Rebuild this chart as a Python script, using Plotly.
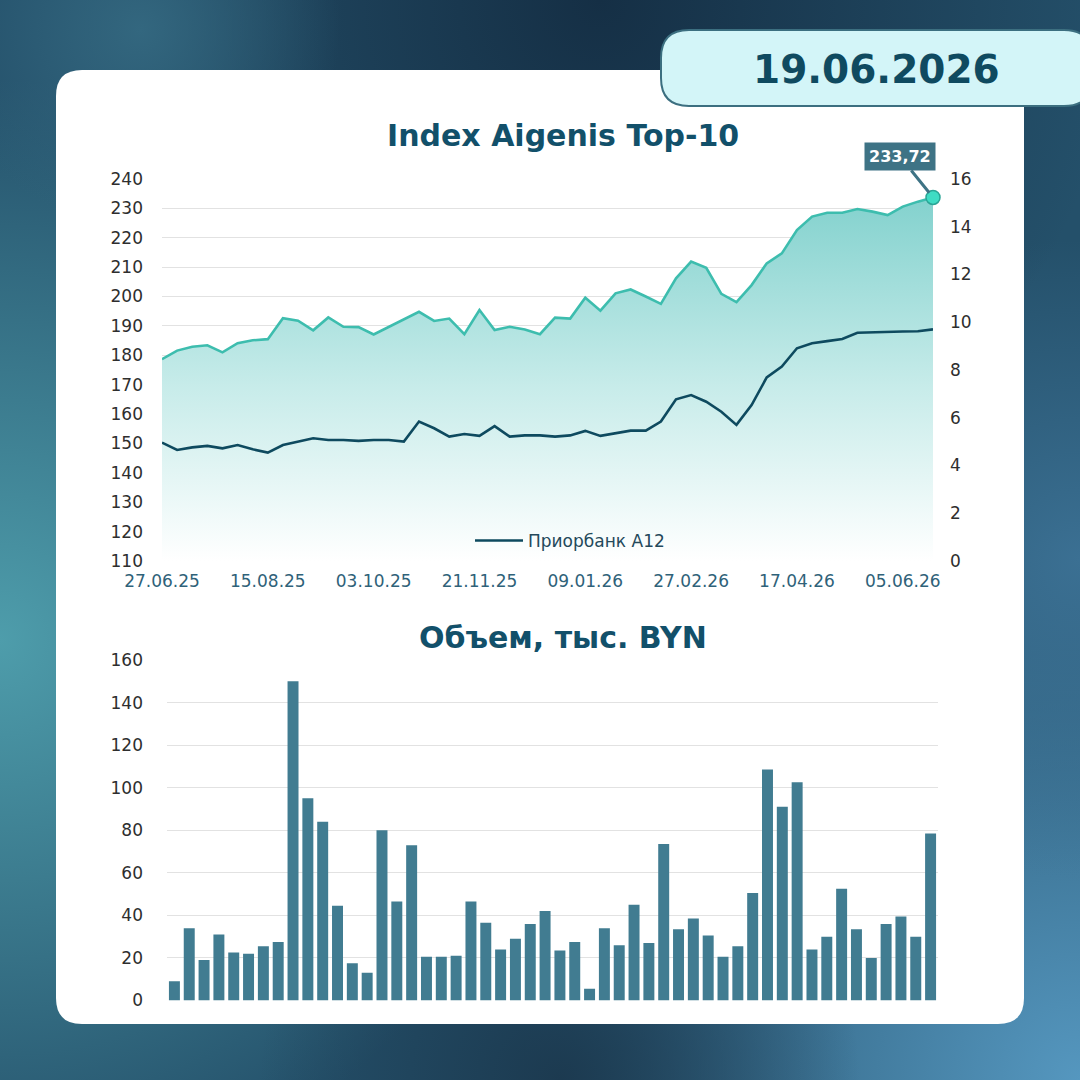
import base64
import pandas as pd
import plotly.graph_objects as go

# ---------------- data ----------------
dates = pd.date_range("2025-06-27", "2026-06-19", freq="7D")

index_top10 = [178.7, 181.6, 182.9, 183.4, 181.0, 184.1, 185.1, 185.5, 192.6, 191.8,
               188.5, 192.9, 189.7, 189.6, 187.1, 189.7, 192.2, 194.8, 191.7, 192.5,
               187.2, 195.4, 188.6, 189.7, 188.8, 187.2, 192.8, 192.5, 199.6, 195.2,
               201.1, 202.4, 200.0, 197.5, 206.2, 211.9, 209.8, 200.9, 198.1, 203.9,
               211.3, 214.7, 222.6, 227.2, 228.5, 228.5, 229.8, 228.9, 227.7, 230.6,
               232.3, 233.72]

priorbank_a12 = [4.96, 4.65, 4.76, 4.82, 4.72, 4.86, 4.68, 4.54, 4.86, 5.00,
                 5.14, 5.07, 5.07, 5.03, 5.07, 5.07, 5.00, 5.84, 5.56, 5.21,
                 5.32, 5.24, 5.65, 5.21, 5.26, 5.26, 5.21, 5.26, 5.45, 5.24,
                 5.35, 5.46, 5.46, 5.84, 6.77, 6.95, 6.67, 6.25, 5.70, 6.53,
                 7.69, 8.14, 8.91, 9.12, 9.21, 9.30, 9.56, 9.58, 9.62, 9.61,
                 9.62, 9.70]

volume = [9, 34, 19, 31, 22.5, 22, 25.5, 27.5, 150, 95,
          84, 44.5, 17.5, 13, 80, 46.5, 73, 20.5, 20.5, 21,
          46.5, 36.5, 24, 29, 36, 42, 23.5, 27.5, 5.5, 34,
          26, 45, 27, 73.5, 33.5, 38.5, 30.5, 20.5, 25.5, 50.5,
          108.5, 91, 102.5, 24, 30, 52.5, 33.5, 20, 36, 39.5,
          30, 78.5]

left_ticks = list(range(110, 241, 10))
right_ticks = list(range(0, 17, 2))
vol_ticks = list(range(0, 161, 20))
x_tick_dates = dates[::7]
x_tick_text = [d.strftime("%d.%m.%y") for d in x_tick_dates]

title_top = "Index Aigenis Top-10"
title_bottom = "Объем, тыс. BYN"
legend_name = "Приорбанк A12"
report_date = "19.06.2026"
last_label = "233,72"

# ---------------- helpers ----------------
W = H = 1080
FONT = "DejaVu Sans"


def px(x):
    return x / W


def py(y):
    return 1 - y / H


def rounded_rect(x0, y0, x1, y1, r):
    pts = [
        f"M {px(x0 + r)} {py(y0)}",
        f"L {px(x1 - r)} {py(y0)}",
        f"Q {px(x1)} {py(y0)} {px(x1)} {py(y0 + r)}",
        f"L {px(x1)} {py(y1 - r)}",
        f"Q {px(x1)} {py(y1)} {px(x1 - r)} {py(y1)}",
        f"L {px(x0 + r)} {py(y1)}",
        f"Q {px(x0)} {py(y1)} {px(x0)} {py(y1 - r)}",
        f"L {px(x0)} {py(y0 + r)}",
        f"Q {px(x0)} {py(y0)} {px(x0 + r)} {py(y0)}",
        "Z",
    ]
    return " ".join(pts)


# background artwork (svg gradient)
svg = """<svg xmlns="http://www.w3.org/2000/svg" width="1080" height="1080" viewBox="0 0 1080 1080">
<defs>
<radialGradient id="a" cx="0" cy="640" r="560" gradientUnits="userSpaceOnUse">
<stop offset="0" stop-color="#4e9dab"/><stop offset="1" stop-color="#4e9dab" stop-opacity="0"/></radialGradient>
<radialGradient id="b" cx="1080" cy="1080" r="560" gradientUnits="userSpaceOnUse">
<stop offset="0" stop-color="#5597bf"/><stop offset="1" stop-color="#5597bf" stop-opacity="0"/></radialGradient>
<radialGradient id="c" cx="600" cy="0" r="520" gradientUnits="userSpaceOnUse">
<stop offset="0" stop-color="#152f45"/><stop offset="1" stop-color="#152f45" stop-opacity="0"/></radialGradient>
<radialGradient id="d" cx="560" cy="1080" r="300" gradientUnits="userSpaceOnUse">
<stop offset="0" stop-color="#1c3a50"/><stop offset="1" stop-color="#1c3a50" stop-opacity="0"/></radialGradient>
<radialGradient id="e" cx="140" cy="30" r="200" gradientUnits="userSpaceOnUse">
<stop offset="0" stop-color="#33677f"/><stop offset="1" stop-color="#33677f" stop-opacity="0"/></radialGradient>
<radialGradient id="f" cx="1080" cy="560" r="320" gradientUnits="userSpaceOnUse">
<stop offset="0" stop-color="#3b7093"/><stop offset="1" stop-color="#3b7093" stop-opacity="0"/></radialGradient>
</defs>
<rect width="1080" height="1080" fill="#24506a"/>
<rect width="1080" height="1080" fill="url(#a)"/>
<rect width="1080" height="1080" fill="url(#b)"/>
<rect width="1080" height="1080" fill="url(#f)"/>
<rect width="1080" height="1080" fill="url(#c)"/>
<rect width="1080" height="1080" fill="url(#d)"/>
<rect width="1080" height="1080" fill="url(#e)"/>
</svg>"""
bg_uri = "data:image/svg+xml;base64," + base64.b64encode(svg.encode()).decode()

# ---------------- figure ----------------
fig = go.Figure()

GREEN = "#3dbdae"
DARK = "#0e4a5f"
BAR = "#417c91"
TXT = "#2e2e2e"
XTXT = "#2f6279"
TITLE = "#12506a"

fig.add_trace(go.Scatter(
    x=dates, y=index_top10, mode="lines",
    line=dict(color=GREEN, width=2.6),
    fill="tozeroy",
    fillgradient=dict(type="vertical", start=110, stop=240,
                      colorscale=[[0, "rgba(255,255,255,1)"], [0.45, "#c8ecea"], [1, "#7ccfcb"]]),
    showlegend=False, hoverinfo="skip", xaxis="x", yaxis="y",
))
fig.add_trace(go.Scatter(
    x=[dates[-1]], y=[index_top10[-1]], mode="markers",
    marker=dict(size=14, color="#3fdcc4", line=dict(color="#2aa596", width=1.5)),
    showlegend=False, hoverinfo="skip", xaxis="x", yaxis="y", cliponaxis=False,
))
fig.add_trace(go.Scatter(
    x=dates, y=priorbank_a12, mode="lines", name=legend_name,
    line=dict(color=DARK, width=2.6),
    xaxis="x", yaxis="y2",
))
fig.add_trace(go.Bar(
    x=dates, y=volume, marker=dict(color=BAR, line=dict(width=0)),
    showlegend=False, xaxis="x3", yaxis="y3",
))

grid = "#e2e2e2"
fig.update_layout(
    width=W, height=H,
    margin=dict(l=0, r=0, t=0, b=0, pad=0, autoexpand=False),
    paper_bgcolor="#25516b",
    plot_bgcolor="rgba(0,0,0,0)",
    font=dict(family=FONT, color=TXT),
    bargap=0.26,
    showlegend=True,
    legend=dict(x=px(470), y=py(541), xanchor="left", yanchor="middle",
                bgcolor="rgba(0,0,0,0)", font=dict(size=17, color="#24495b", family=FONT),
                itemwidth=48),
    xaxis=dict(domain=[px(162), px(933)], anchor="y", type="date", automargin=False,
               range=[dates[0], dates[-1]],
               tickvals=list(x_tick_dates), ticktext=x_tick_text,
               tickfont=dict(size=17, color=XTXT), showgrid=False, zeroline=False,
               showline=False, ticks="", ticklabelstandoff=8),
    yaxis=dict(domain=[py(561), py(179)], range=[110, 240], tickvals=left_ticks, automargin=False,
               tickfont=dict(size=17, color=TXT), gridcolor=grid, gridwidth=1,
               zeroline=False, showline=False, ticks="", ticklabelstandoff=18),
    yaxis2=dict(overlaying="y", side="right", anchor="x", range=[0, 16], tickvals=right_ticks,
                automargin=False,
                tickfont=dict(size=17, color=TXT), showgrid=False, zeroline=False,
                showline=False, ticks="", ticklabelstandoff=16),
    xaxis3=dict(domain=[px(167), px(938)], anchor="y3", type="date", automargin=False,
                range=[dates[0] - pd.Timedelta(days=3.5), dates[-1] + pd.Timedelta(days=3.5)],
                showticklabels=False, showgrid=False, zeroline=False, showline=False, ticks=""),
    yaxis3=dict(domain=[py(1000.5), py(660)], range=[0, 160], tickvals=vol_ticks, automargin=False,
                tickfont=dict(size=17, color=TXT), gridcolor=grid, gridwidth=1,
                zeroline=False, showline=False, ticks="", ticklabelstandoff=18),
)

fig.add_layout_image(dict(source=bg_uri, xref="paper", yref="paper", x=0, y=1,
                          sizex=1, sizey=1, sizing="stretch", layer="below"))

# white card
fig.add_shape(type="path", path=rounded_rect(56, 70, 1024, 1024, 26), xref="paper", yref="paper",
              fillcolor="white", line=dict(width=0), layer="below")
# date badge
fig.add_shape(type="path", path=rounded_rect(661, 30, 1092, 106, 28), xref="paper", yref="paper",
              fillcolor="#d3f5f8", line=dict(width=2, color="#3c6f80"), layer="below")

fig.add_annotation(x=px(876), y=py(69), xref="paper", yref="paper", text=f"<b>{report_date}</b>",
                   xanchor="center", yanchor="middle",
                   showarrow=False, font=dict(size=39, color="#0f4a60", family=FONT))
fig.add_annotation(x=px(563), y=py(136), xref="paper", yref="paper", text=f"<b>{title_top}</b>",
                   xanchor="center", yanchor="middle",
                   showarrow=False, font=dict(size=30, color=TITLE, family=FONT))
fig.add_annotation(x=px(563), y=py(637), xref="paper", yref="paper", text=f"<b>{title_bottom}</b>",
                   xanchor="center", yanchor="middle",
                   showarrow=False, font=dict(size=30, color=TITLE, family=FONT))
fig.add_annotation(x=dates[-1], y=index_top10[-1], xref="x", yref="y", text=f"<b>{last_label}</b>",
                   showarrow=True, arrowhead=0, arrowwidth=3, arrowcolor="#3e7385",
                   ax=-33, ay=-41, standoff=6, bgcolor="#3e7385", borderpad=4,
                   font=dict(size=16, color="white", family=FONT))

fig.write_html("out.html")
